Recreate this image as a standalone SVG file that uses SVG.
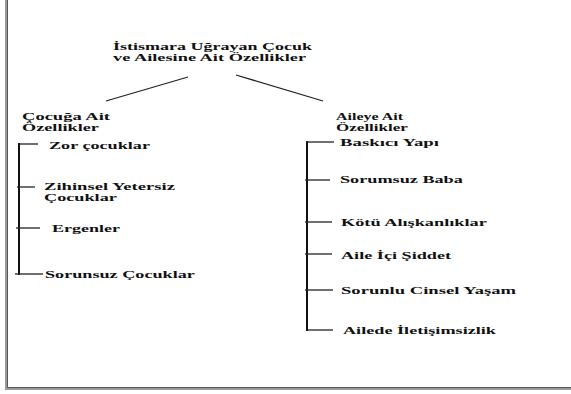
<svg xmlns="http://www.w3.org/2000/svg" width="571" height="394" viewBox="0 0 571 394">
<style>
text{font-family:"Liberation Serif","Times New Roman",serif;font-weight:bold;fill:#111}
.h{font-size:10.5px}
.i{font-size:10px}
.c{stroke:#222;stroke-width:1.3;fill:none}
.v{stroke:#111;stroke-width:2;fill:none}
</style>
<rect x="0" y="0" width="571" height="394" fill="#fff"/>
<g id="frame">
<path d="M6.5,-2 V388.5 H575" fill="none" stroke="#9a9a9a" stroke-width="3"/>
<path d="M7.5,-2 V387.5 H575" fill="none" stroke="#555" stroke-width="1"/>
</g>
<g id="root">
<text class="h" transform="translate(113,50) scale(1.35,1)" textLength="147.4" lengthAdjust="spacingAndGlyphs">İstismara Uğrayan Çocuk</text>
<text class="h" transform="translate(113,61) scale(1.35,1)" textLength="143" lengthAdjust="spacingAndGlyphs">ve Ailesine Ait Özellikler</text>
</g>
<g id="cocuga">
<text class="h" transform="translate(22,120) scale(1.35,1)" textLength="65.2" lengthAdjust="spacingAndGlyphs">Çocuğa Ait</text>
<text class="h" transform="translate(22,131) scale(1.35,1)" textLength="57" lengthAdjust="spacingAndGlyphs">Özellikler</text>
</g>
<g id="aileye">
<text class="h" transform="translate(336,120) scale(1.35,1)" textLength="49.6" lengthAdjust="spacingAndGlyphs">Aileye Ait</text>
<text class="h" transform="translate(336,131) scale(1.35,1)" textLength="53.3" lengthAdjust="spacingAndGlyphs">Özellikler</text>
</g>
<g id="zor"><text class="i" transform="translate(49,149) scale(1.35,1)" textLength="74.8" lengthAdjust="spacingAndGlyphs">Zor çocuklar</text></g>
<g id="zihinsel">
<text class="i" transform="translate(44,189.5) scale(1.35,1)" textLength="97" lengthAdjust="spacingAndGlyphs">Zihinsel Yetersiz</text>
<text class="i" transform="translate(44,201) scale(1.35,1)" textLength="54" lengthAdjust="spacingAndGlyphs">Çocuklar</text>
</g>
<g id="ergenler"><text class="i" transform="translate(52,232) scale(1.35,1)" textLength="50.4" lengthAdjust="spacingAndGlyphs">Ergenler</text></g>
<g id="sorunsuz"><text class="i" transform="translate(45,278) scale(1.35,1)" textLength="111" lengthAdjust="spacingAndGlyphs">Sorunsuz Çocuklar</text></g>
<g id="baskici"><text class="i" transform="translate(340,146) scale(1.35,1)" textLength="73.3" lengthAdjust="spacingAndGlyphs">Baskıcı Yapı</text></g>
<g id="sorumsuz"><text class="i" transform="translate(340,183) scale(1.35,1)" textLength="91" lengthAdjust="spacingAndGlyphs">Sorumsuz Baba</text></g>
<g id="kotu"><text class="i" transform="translate(341,226) scale(1.35,1)" textLength="108" lengthAdjust="spacingAndGlyphs">Kötü Alışkanlıklar</text></g>
<g id="siddet"><text class="i" transform="translate(341,259) scale(1.35,1)" textLength="81.5" lengthAdjust="spacingAndGlyphs">Aile İçi Şiddet</text></g>
<g id="cinsel"><text class="i" transform="translate(341,294) scale(1.35,1)" textLength="129.6" lengthAdjust="spacingAndGlyphs">Sorunlu Cinsel Yaşam</text></g>
<g id="iletisim"><text class="i" transform="translate(343,334) scale(1.35,1)" textLength="113.3" lengthAdjust="spacingAndGlyphs">Ailede İletişimsizlik</text></g>
<g id="connectors">
<line class="c" x1="188" y1="77" x2="106" y2="101"/>
<line class="c" x1="236" y1="75" x2="323" y2="101"/>
<line class="v" x1="19" y1="143" x2="19" y2="275"/>
<line class="c" x1="19" y1="144" x2="38" y2="144"/>
<line class="c" x1="17" y1="187" x2="35" y2="187"/>
<line class="c" x1="16" y1="228" x2="40" y2="228"/>
<line class="c" x1="15" y1="274" x2="43" y2="274"/>
<line class="v" x1="307" y1="141" x2="307" y2="331"/>
<line class="c" x1="306" y1="142" x2="334" y2="142"/>
<line class="c" x1="305" y1="180" x2="330" y2="180"/>
<line class="c" x1="305" y1="222" x2="332" y2="222"/>
<line class="c" x1="305" y1="254" x2="332" y2="254"/>
<line class="c" x1="305" y1="290" x2="333" y2="290"/>
<line class="c" x1="307" y1="330" x2="333" y2="330"/>
</g>
</svg>
